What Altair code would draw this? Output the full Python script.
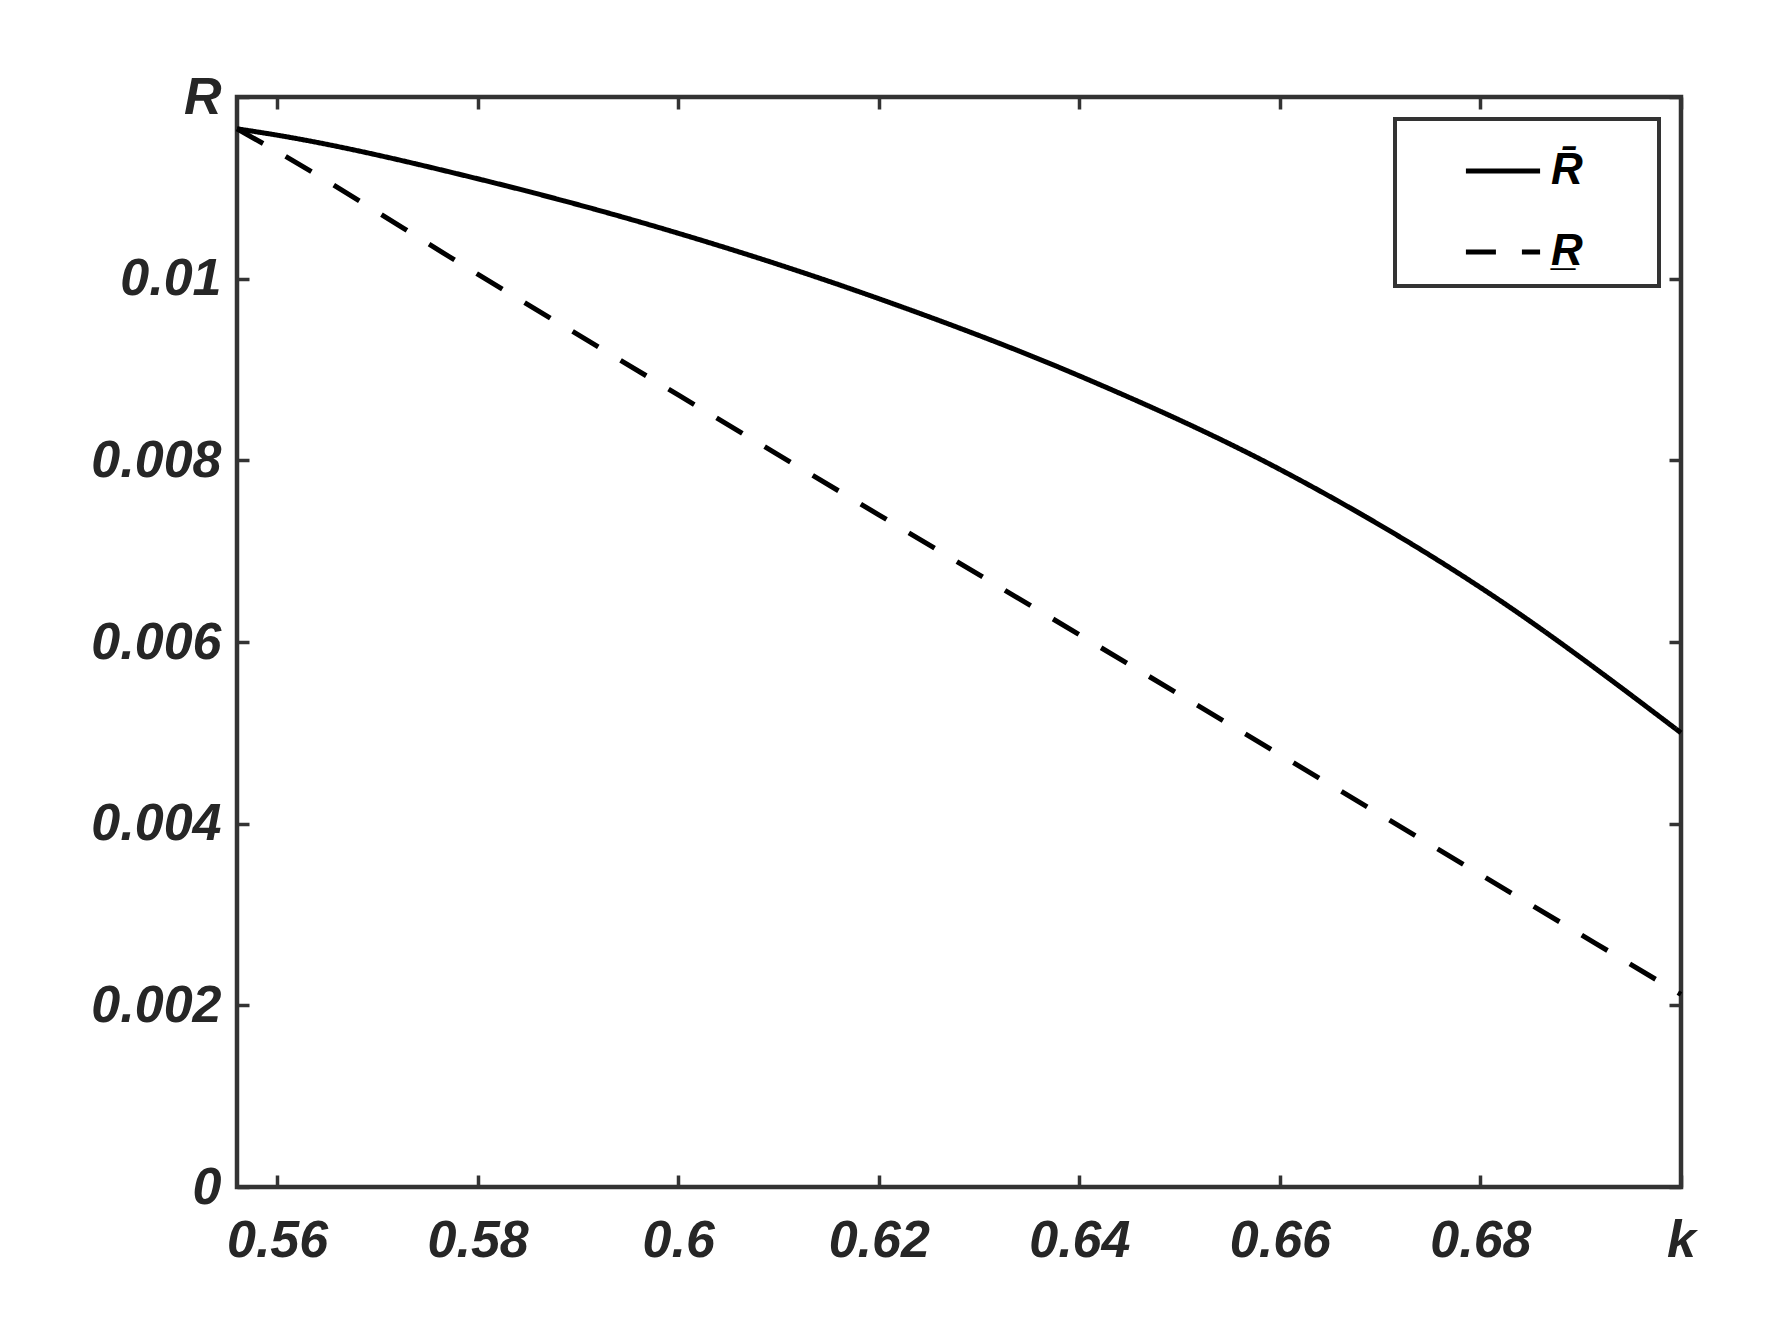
import altair as alt
import pandas as pd

k_vals = [0.556, 0.56, 0.58, 0.60, 0.62, 0.64, 0.66, 0.68, 0.70]
r_upper = [0.01165, 0.01158, 0.01110, 0.01050, 0.00978, 0.00893, 0.00790, 0.00660, 0.00500]
r_lower = [0.01165, 0.01140, 0.01005, 0.00872, 0.00740, 0.00608, 0.00476, 0.00344, 0.00212]
series_names = ["R\u0304", "R\u0332"]
x_ticks = [0.56, 0.58, 0.60, 0.62, 0.64, 0.66, 0.68, 0.70]
y_ticks = [0, 0.002, 0.004, 0.006, 0.008, 0.010, 0.012]

rows = []
for k, a, b in zip(k_vals, r_upper, r_lower):
    rows.append({"k": k, "R": a, "s": series_names[0]})
    rows.append({"k": k, "R": b, "s": series_names[1]})
df = pd.DataFrame(rows)

FONT = "Liberation Sans"
LBL = "#262626"
FRAME = "#333333"
T = 12

xs = alt.Scale(domain=[0.556, 0.70], nice=False, zero=False)
ys = alt.Scale(domain=[0, 0.012], nice=False)

dash = alt.StrokeDash(
    "s:N",
    scale=alt.Scale(domain=series_names, range=[[1, 0], [30, 26]]),
    legend=alt.Legend(
        title=None, orient="top-right", offset=22,
        symbolType="stroke", symbolSize=5500, symbolStrokeWidth=5,
        symbolStrokeColor="black", symbolOffset=56,
        labelFont=FONT, labelFontSize=44, labelFontStyle="italic",
        labelFontWeight="bold", labelColor="black", labelOffset=8,
        labelExpr="datum.label + '\u2800\u2800'",
        padding=12, rowPadding=19,
        strokeColor=FRAME, fillColor="white",
    ),
)

base = alt.Chart(df)

main = base.mark_line(color="black", strokeWidth=5, interpolate="monotone").encode(
    x=alt.X("k:Q", scale=xs, axis=alt.Axis(
        orient="bottom", values=x_ticks, offset=-T, tickSize=T, domain=False, grid=False,
        labelExpr="datum.value > 0.699 ? 'k' : format(datum.value, '~g')",
        labelPadding=28, title=None, labelFlush=False)),
    y=alt.Y("R:Q", scale=ys, axis=alt.Axis(
        orient="left", values=y_ticks, offset=-T, tickSize=T, domain=False, grid=False,
        labelExpr="datum.value > 0.0119 ? 'R' : format(datum.value, '~g')",
        labelPadding=16, title=None, labelFlush=False)),
    strokeDash=dash,
    detail="s:N",
)

mirror = base.mark_line(opacity=0).encode(
    x=alt.X("k:Q", scale=xs, axis=alt.Axis(
        orient="top", values=x_ticks, offset=-T, tickSize=T, domain=False,
        grid=False, labels=False, title=None)),
    y=alt.Y("R:Q", scale=ys, axis=alt.Axis(
        orient="right", values=y_ticks, offset=-T, tickSize=T, domain=False,
        grid=False, labels=False, title=None)),
    detail="s:N",
)

chart = alt.layer(main, mirror).resolve_axis(x="independent", y="independent").properties(
    width=1444, height=1090,
    autosize="none",
    padding={"left": 229, "top": 89, "right": 70, "bottom": 130},
).configure_view(
    stroke=FRAME, strokeWidth=4.5
).configure_axis(
    tickColor=FRAME, tickWidth=3.5,
    labelFont=FONT, labelFontSize=52, labelFontStyle="italic", labelFontWeight="bold",
    labelColor=LBL,
).configure_legend(
    strokeWidth=4
)

chart.save("out.html", embed_options={"renderer": "svg", "actions": False})
